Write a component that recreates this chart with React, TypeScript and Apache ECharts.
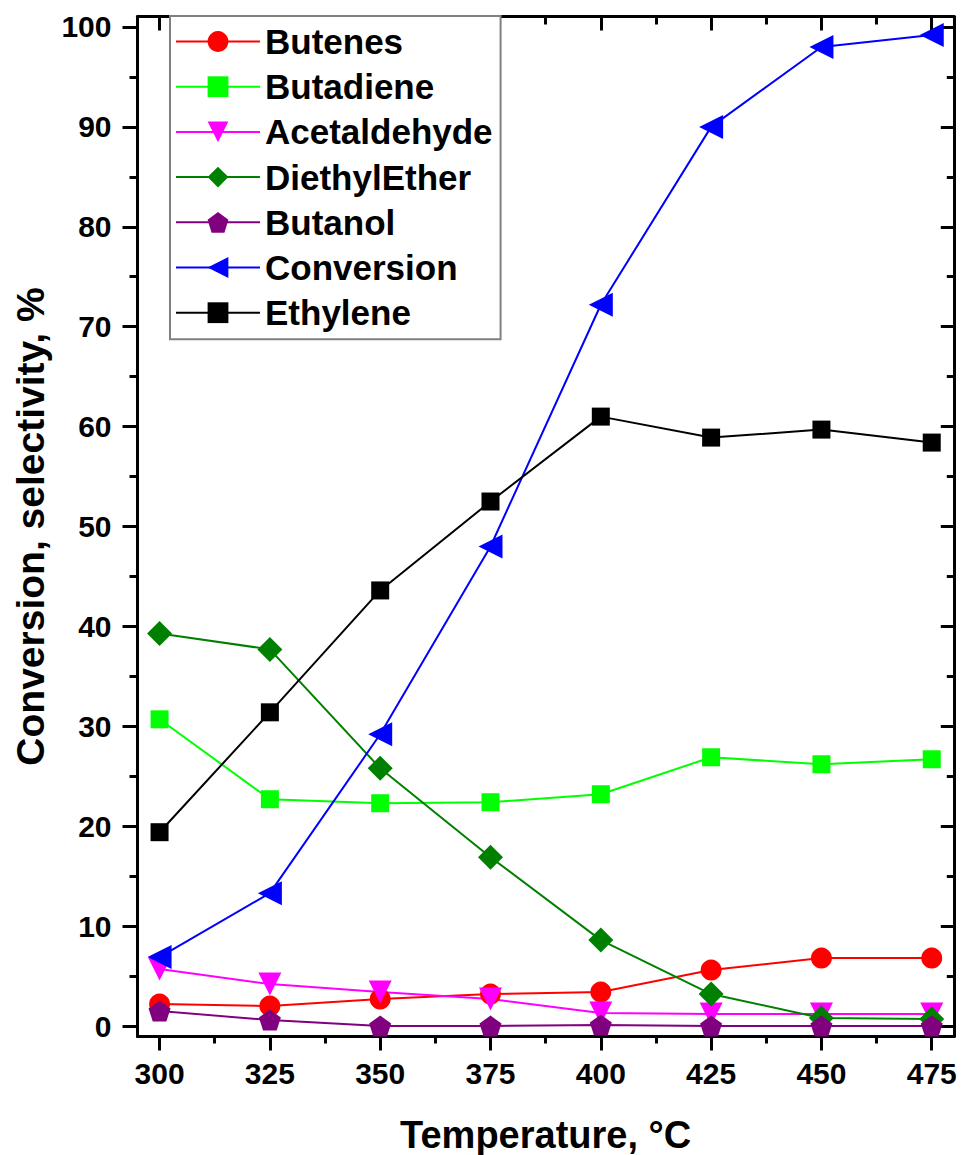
import React, { useEffect, useRef } from "react";
import * as echarts from "echarts";

const temps = [300, 325, 350, 375, 400, 425, 450, 475];
const butenes = [2.2, 2.0, 2.7, 3.2, 3.4, 5.6, 6.8, 6.8];
const butadiene = [30.7, 22.7, 22.3, 22.4, 23.2, 26.9, 26.2, 26.7];
const acetaldehyde = [5.7, 4.2, 3.4, 2.7, 1.3, 1.2, 1.2, 1.2];
const diethylEther = [39.3, 37.7, 25.8, 16.9, 8.6, 3.2, 0.8, 0.7];
const butanol = [1.5, 0.6, 0.0, 0.0, 0.1, 0.0, 0.0, 0.0];
const conversion = [6.9, 13.3, 29.2, 48.0, 72.2, 90.0, 98.0, 99.2];
const ethylene = [19.4, 31.4, 43.6, 52.5, 61.0, 58.9, 59.7, 58.4];

const xMajor = [300, 325, 350, 375, 400, 425, 450, 475];
const xMinor = [312.5, 337.5, 362.5, 387.5, 412.5, 437.5, 462.5];
const yMajor = [0, 10, 20, 30, 40, 50, 60, 70, 80, 90, 100];
const yMinor = [5, 15, 25, 35, 45, 55, 65, 75, 85, 95];

const FONT = "'Liberation Sans', Arial, sans-serif";
const PENTAGON = "path://M0,-1 L0.951,-0.309 L0.588,0.809 L-0.588,0.809 L-0.951,-0.309 Z";

export default function App() {
  const ref = useRef<HTMLDivElement>(null);
  useEffect(() => {
    if (!ref.current) return;
    const chart = echarts.init(ref.current, null, { renderer: "svg" });
    const pts = (vals: number[]) => temps.map((t, i) => [t, vals[i]]);
    const mk = (name: string, vals: number[], color: string, symbol: string, size: number, rotate = 0) => ({
      name,
      type: "line",
      data: pts(vals),
      symbol,
      symbolSize: size,
      symbolRotate: rotate,
      symbolKeepAspect: true,
      showAllSymbol: true,
      lineStyle: { color, width: 2 },
      itemStyle: { color, opacity: 1 },
      emphasis: { disabled: true },
      xAxisIndex: 0,
      yAxisIndex: 0,
    });
    const xBase = { type: "value", min: 295, max: 480, gridIndex: 0, splitLine: { show: false } };
    const yBase = { type: "value", min: -1.05, max: 101.05, gridIndex: 0, splitLine: { show: false } };
    const lineStyle = { color: "#000", width: 3 };
    chart.setOption({
      animation: false,
      backgroundColor: "#fff",
      grid: { left: 137.5, right: 7.2, top: 16.5, bottom: 118.5, containLabel: false, outerBoundsMode: "none" },
      legend: {
        orient: "vertical",
        left: 170,
        top: 16,
        backgroundColor: "#fff",
        borderColor: "#808080",
        borderWidth: 2,
        borderRadius: 0,
        padding: [8, 8, 9, 5],
        itemWidth: 84,
        itemHeight: 26,
        itemGap: 10.2,
        textStyle: { fontSize: 35, fontWeight: "bold", fontFamily: FONT, color: "#000", lineHeight: 34 },
        data: ["Butenes", "Butadiene", "Acetaldehyde", "DiethylEther", "Butanol", "Conversion", "Ethylene"],
      },
      xAxis: [
        {
          ...xBase,
          position: "bottom",
          name: "Temperature, °C",
          nameLocation: "middle",
          nameGap: 79,
          nameTextStyle: { fontSize: 38, fontWeight: "bold", fontFamily: FONT, color: "#000" },
          axisLine: { show: true, onZero: false, lineStyle },
          axisTick: { show: true, inside: false, length: 14, customValues: xMajor, lineStyle: { color: "#000", width: 3 } },
          axisLabel: { show: true, customValues: xMajor, margin: 22, fontSize: 30, fontWeight: "bold", fontFamily: FONT, color: "#000" },
        },
        {
          ...xBase,
          position: "bottom",
          axisLine: { show: false, onZero: false },
          axisTick: { show: true, inside: false, length: 7, customValues: xMinor, lineStyle: { color: "#000", width: 3 } },
          axisLabel: { show: false },
        },
        {
          ...xBase,
          position: "top",
          axisLine: { show: true, onZero: false, lineStyle },
          axisTick: { show: true, inside: true, length: 14, customValues: xMajor, lineStyle: { color: "#000", width: 3 } },
          axisLabel: { show: false },
        },
        {
          ...xBase,
          position: "top",
          axisLine: { show: false, onZero: false },
          axisTick: { show: true, inside: true, length: 8, customValues: xMinor, lineStyle: { color: "#000", width: 3 } },
          axisLabel: { show: false },
        },
      ],
      yAxis: [
        {
          ...yBase,
          position: "left",
          name: "Conversion, selectivity, %",
          nameLocation: "middle",
          nameGap: 88,
          nameTextStyle: { fontSize: 39, fontWeight: "bold", fontFamily: FONT, color: "#000" },
          axisLine: { show: true, onZero: false, lineStyle },
          axisTick: { show: true, inside: false, length: 15, customValues: yMajor, lineStyle: { color: "#000", width: 3 } },
          axisLabel: { show: true, customValues: yMajor, margin: 26, fontSize: 30, fontWeight: "bold", fontFamily: FONT, color: "#000" },
        },
        {
          ...yBase,
          position: "left",
          axisLine: { show: false, onZero: false },
          axisTick: { show: true, inside: false, length: 8, customValues: yMinor, lineStyle: { color: "#000", width: 3 } },
          axisLabel: { show: false },
        },
        {
          ...yBase,
          position: "right",
          axisLine: { show: true, onZero: false, lineStyle },
          axisTick: { show: true, inside: true, length: 13, customValues: yMajor, lineStyle: { color: "#000", width: 3 } },
          axisLabel: { show: false },
        },
        {
          ...yBase,
          position: "right",
          axisLine: { show: false, onZero: false },
          axisTick: { show: true, inside: true, length: 7, customValues: yMinor, lineStyle: { color: "#000", width: 3 } },
          axisLabel: { show: false },
        },
      ],
      series: [
        mk("Butenes", butenes, "#FF0000", "circle", 21),
        mk("Butadiene", butadiene, "#00FF00", "rect", 18),
        mk("Acetaldehyde", acetaldehyde, "#FF00FF", "triangle", 23, 180),
        mk("DiethylEther", diethylEther, "#008000", "diamond", 25),
        mk("Butanol", butanol, "#800080", PENTAGON, 22),
        mk("Conversion", conversion, "#0000FF", "triangle", 24, 90),
        mk("Ethylene", ethylene, "#000000", "rect", 18),
      ],
    });
    return () => chart.dispose();
  }, []);
  return <div ref={ref} style={{ position: "fixed", left: 0, top: 0, width: 961, height: 1155 }} />;
}
